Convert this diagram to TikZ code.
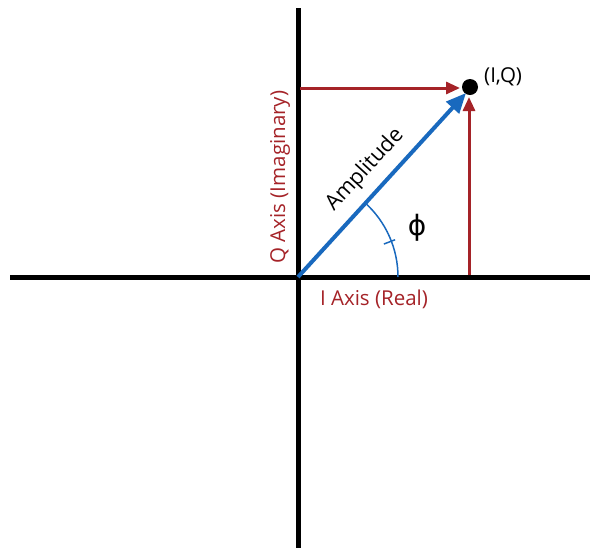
\documentclass[tikz,border=0pt]{standalone}
\usepackage{fontspec}
\setmainfont{Open Sans}
\newfontfamily\phifont{DejaVu Sans}
\usetikzlibrary{arrows.meta,calc}
\definecolor{axred}{RGB}{165,35,40}
\definecolor{axblue}{RGB}{25,105,190}
\begin{document}
\begin{tikzpicture}[x=1pt,y=-1pt,
  axis/.style={line width=5pt,black},
  redarrow/.style={axred,line width=3pt,-{Triangle[length=14pt,width=12pt]}},
  bluearrow/.style={axblue,line width=4pt,-{Triangle[length=20pt,width=17pt]}},
  lbl/.style={font=\fontsize{20.5}{23}\selectfont,inner sep=0pt}]
\useasboundingbox (0,0) rectangle (590,550);
\fill[white] (0,0) rectangle (590,550);
\coordinate (O) at (298,277);
\coordinate (top) at (298,8);
\coordinate (bot) at (298,548);
\coordinate (left) at (10,277);
\coordinate (right) at (590,277);
\draw[axis] (top) -- (bot);
\draw[axis] (left) -- (right);
\node[circle,fill=black,minimum size=16pt,inner sep=0pt] (P) at (470,87) {};
\coordinate (qstart) at (300,88);
\coordinate (qend) at (460,88);
\coordinate (istart) at (469,275);
\coordinate (iend) at (469,97);
\draw[redarrow] (qstart) -- (qend);
\draw[redarrow] (istart) -- (iend);
\coordinate (aend) at (466,93);
\draw[bluearrow] (O) -- (aend);
\draw[axblue,line width=1.5pt] ($(O)+(100,0)$) arc[start angle=0,end angle=-48,radius=100];
\draw[axblue,line width=1.5pt] (O) ++(-21:92) -- ++(-21:12);
\node[inner sep=0pt,font=\phifont\fontsize{28}{30}\selectfont] (phi) at (417,228) {ϕ};
\node[lbl,anchor=west] (iq) at (484,77) {(I,Q)};
\node[lbl,rotate=47.5,font=\fontsize{21.5}{24}\selectfont] (amp) at (365,170) {Amplitude};
\node[lbl,rotate=90,axred] (qlab) at (280,177) {Q Axis (Imaginary)};
\node[lbl,axred] (ilab) at (374,299) {I Axis (Real)};
\end{tikzpicture}
\end{document}
